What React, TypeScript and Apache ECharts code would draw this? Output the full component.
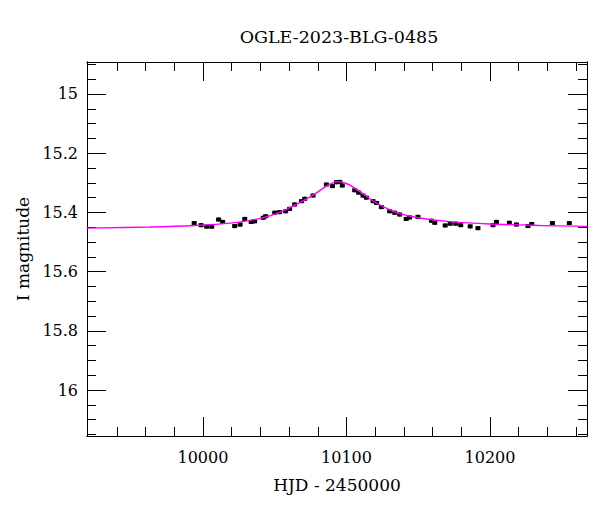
import React, { useEffect, useRef } from "react";
import * as echarts from "echarts";

const titleText = "OGLE-2023-BLG-0485";
const xName = "HJD - 2450000";
const yName = "I magnitude";

const xMajorTicks = [10000, 10100, 10200];
const xMinorTicks = [9940, 9960, 9980, 10020, 10040, 10060, 10080, 10120, 10140, 10160, 10180, 10220, 10240, 10260];
const yMajorTicks = [15, 15.2, 15.4, 15.6, 15.8, 16];
const yMinorTicks = [14.9, 14.95, 15.05, 15.1, 15.15, 15.25, 15.3, 15.35, 15.45, 15.5, 15.55, 15.65, 15.7, 15.75, 15.85, 15.9, 15.95, 16.05, 16.1, 16.15];

const dataHJD = [
  9993.9, 9998.7, 10002.6, 10006.1, 10010.9, 10013.7, 10022.1, 10025.9, 10029.1, 10033.6,
  10036.0, 10042.0, 10043.7, 10050.0, 10053.4, 10057.6, 10060.4, 10063.9, 10068.6, 10070.9,
  10076.7, 10086.0, 10090.2, 10093.0, 10095.3, 10097.1, 10105.7, 10108.5, 10111.5, 10113.9,
  10118.5, 10121.0, 10124.3, 10130.1, 10133.6, 10137.1, 10141.6, 10144.0, 10149.8, 10159.2,
  10161.5, 10168.8, 10172.3, 10176.1, 10179.6, 10186.2, 10191.6, 10202.1, 10204.5, 10213.5,
  10218.4, 10226.5, 10229.1, 10243.5, 10255.3,
];
const dataMag = [
  15.436, 15.443, 15.448, 15.448, 15.424, 15.432, 15.446, 15.441, 15.422, 15.432,
  15.430, 15.418, 15.413, 15.401, 15.399, 15.396, 15.388, 15.373, 15.362, 15.354,
  15.343, 15.306, 15.311, 15.298, 15.297, 15.309, 15.325, 15.333, 15.343, 15.350,
  15.362, 15.368, 15.382, 15.396, 15.401, 15.407, 15.422, 15.417, 15.415, 15.428,
  15.435, 15.444, 15.438, 15.438, 15.443, 15.447, 15.453, 15.443, 15.432, 15.435,
  15.441, 15.446, 15.439, 15.436, 15.436,
];
const dataErr = [
  0.007, 0.007, 0.007, 0.007, 0.007, 0.007, 0.007, 0.007, 0.007, 0.007,
  0.007, 0.007, 0.007, 0.007, 0.007, 0.007, 0.007, 0.007, 0.007, 0.007,
  0.007, 0.007, 0.007, 0.007, 0.007, 0.007, 0.007, 0.007, 0.007, 0.007,
  0.007, 0.007, 0.007, 0.007, 0.007, 0.007, 0.007, 0.007, 0.007, 0.007,
  0.007, 0.007, 0.007, 0.007, 0.007, 0.007, 0.007, 0.007, 0.007, 0.007,
  0.007, 0.007, 0.007, 0.007, 0.007,
];

const modelHJD = [9919, 9963, 9994, 10019, 10039.5, 10053.4, 10067.4, 10077.8, 10086.9, 10093.9, 10100.8, 10109.2, 10117.6, 10126.6, 10137.1, 10151, 10171.9, 10199.8, 10234.6, 10268];
const modelMag = [15.453, 15.449, 15.444, 15.436, 15.421, 15.4, 15.367, 15.338, 15.309, 15.296, 15.304, 15.329, 15.358, 15.383, 15.404, 15.419, 15.431, 15.439, 15.444, 15.447];

const X_MIN = 9919.2;
const X_MAX = 10267.6;
const Y_MIN = 14.892;
const Y_MAX = 16.155;

const FONT = "DejaVu Serif";

export default function App() {
  const ref = useRef<HTMLDivElement>(null);
  useEffect(() => {
    if (!ref.current) return;
    const chart = echarts.init(ref.current, null, { renderer: "svg" });
    const black = "#000";
    const line = { lineStyle: { color: black, width: 1 } };
    const mkX = (pos: string, major: boolean, withLabel: boolean) => ({
      type: "value",
      position: pos,
      min: X_MIN,
      max: X_MAX,
      axisLine: { show: true, onZero: false, ...line },
      axisTick: { show: true, inside: true, length: major ? 19 : 9, customValues: major ? xMajorTicks : xMinorTicks, ...line },
      axisLabel: withLabel
        ? {
            show: true,
            customValues: xMajorTicks,
            formatter: (v: number) => String(Math.round(v)),
            fontFamily: FONT,
            fontSize: 16,
            color: black,
            margin: 13,
          }
        : { show: false },
      splitLine: { show: false },
      minorTick: { show: false },
      ...(withLabel
        ? { name: xName, nameLocation: "middle", nameGap: 40, nameTextStyle: { fontFamily: FONT, fontSize: 17, color: black } }
        : {}),
    });
    const mkY = (pos: string, major: boolean, withLabel: boolean) => ({
      type: "value",
      position: pos,
      inverse: true,
      min: Y_MIN,
      max: Y_MAX,
      axisLine: { show: true, onZero: false, ...line },
      axisTick: { show: true, inside: true, length: major ? 19 : 9, customValues: major ? yMajorTicks : yMinorTicks, ...line },
      axisLabel: withLabel
        ? {
            show: true,
            customValues: yMajorTicks,
            formatter: (v: number) => String(Math.round(v * 10) / 10),
            fontFamily: FONT,
            fontSize: 16,
            color: black,
            margin: 9,
          }
        : { show: false },
      splitLine: { show: false },
      minorTick: { show: false },
      ...(withLabel
        ? { name: yName, nameLocation: "middle", nameGap: 52, nameRotate: 90, nameTextStyle: { fontFamily: FONT, fontSize: 17, color: black } }
        : {}),
    });
    chart.setOption({
      animation: false,
      backgroundColor: "#fff",
      title: {
        text: titleText,
        left: 334,
        textAlign: "center",
        top: 23,
        textStyle: { fontFamily: FONT, fontSize: 17.5, fontWeight: "normal", color: black },
      },
      grid: { left: 87, right: 13, top: 62, bottom: 76, containLabel: false, outerBoundsMode: "none" },
      xAxis: [mkX("bottom", true, true), mkX("bottom", false, false), mkX("top", true, false), mkX("top", false, false)],
      yAxis: [mkY("left", true, true), mkY("left", false, false), mkY("right", true, false), mkY("right", false, false)],
      series: [
        {
          type: "custom",
          xAxisIndex: 0,
          yAxisIndex: 0,
          clip: true,
          data: dataHJD.map((x, i) => [x, dataMag[i], dataErr[i]]),
          encode: { x: 0, y: 1 },
          renderItem: (params: any, api: any) => {
            const x = api.value(0);
            const y = api.value(1);
            const e = api.value(2);
            const p = api.coord([x, y]);
            const t = api.coord([x, y - e]);
            const b = api.coord([x, y + e]);
            return {
              type: "group",
              children: [
                { type: "line", shape: { x1: p[0], y1: t[1], x2: p[0], y2: b[1] }, style: { stroke: black, lineWidth: 1.5 } },
                { type: "rect", shape: { x: p[0] - 2.5, y: p[1] - 2, width: 5, height: 4 }, style: { fill: black } },
              ],
            };
          },
          z: 2,
        },
        {
          type: "line",
          xAxisIndex: 0,
          yAxisIndex: 0,
          data: modelHJD.map((x, i) => [x, modelMag[i]]),
          showSymbol: false,
          symbol: "none",
          smooth: 0.35,
          lineStyle: { color: "#ff00ff", width: 1.4 },
          z: 3,
        },
      ],
    });
    return () => chart.dispose();
  }, []);
  return <div ref={ref} style={{ position: "fixed", left: 0, top: 0, width: 600, height: 512 }} />;
}
